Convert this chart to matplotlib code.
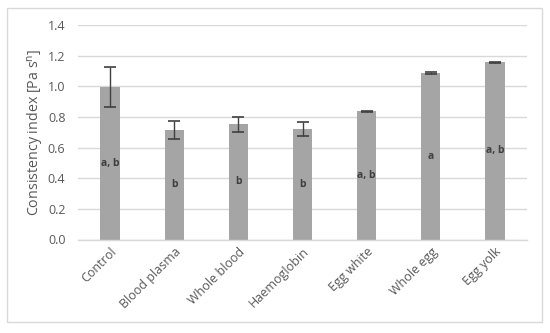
import matplotlib.pyplot as plt
from matplotlib.patches import Rectangle

# Data
categories = ["Control", "Blood plasma", "Whole blood", "Haemoglobin",
              "Egg white", "Whole egg", "Egg yolk"]
values = [0.995, 0.716, 0.753, 0.72, 0.837, 1.087, 1.156]
errors = [0.13, 0.06, 0.049, 0.047, 0.004, 0.004, 0.004]
letters = ["a, b", "b", "b", "b", "a, b", "a", "a, b"]
yticks = [0.0, 0.2, 0.4, 0.6, 0.8, 1.0, 1.2, 1.4]

plt.rcParams['font.family'] = ['Open Sans', 'DejaVu Sans']

fig = plt.figure(figsize=(5.5, 3.33), dpi=100)
ax = fig.add_axes([78 / 550, 1 - 239.5 / 333, 449 / 550, 214.5 / 333])

x = range(len(categories))
ax.bar(x, values, width=0.3, color="#a5a5a5", zorder=2)
ax.errorbar(x, values, yerr=errors, fmt="none", ecolor="#404040",
            elinewidth=1, capsize=4, capthick=1.2, zorder=3)

# letters in the middle of each bar
for i, (v, lab) in enumerate(zip(values, letters)):
    ax.text(i, v / 2, lab, ha="center", va="center", fontsize=7.5,
            fontweight="bold", color="#404040", zorder=4)

ax.set_xlim(-0.5, len(categories) - 0.5)
ax.set_ylim(0, 1.4)
ax.set_yticks(yticks)
ax.set_yticklabels([f"{t:.1f}" for t in yticks])
ax.yaxis.grid(True, color="#d9d9d9", linewidth=1, zorder=0)
ax.set_axisbelow(True)
for s in ["top", "right", "left"]:
    ax.spines[s].set_visible(False)
ax.spines["bottom"].set_color("#d9d9d9")
ax.spines["bottom"].set_linewidth(1)
ax.tick_params(axis="both", length=0, colors="#595959", labelsize=9)
ax.tick_params(axis="y", pad=9)
ax.tick_params(axis="x", pad=4)
ax.set_xticks(list(x))
ax.set_xticklabels(categories, rotation=45, ha="right", rotation_mode="anchor")
ax.set_ylabel("Consistency index [Pa s$^{\\mathrm{n}}$]", color="#595959",
              fontsize=10.3, labelpad=1)

# outer chart border
fig.patches.append(Rectangle((7 / 550, 1 - 322 / 333), 535 / 550, 314 / 333,
                             transform=fig.transFigure, fill=False,
                             edgecolor="#d9d9d9", linewidth=1))

fig.savefig("out.png", dpi=100)
